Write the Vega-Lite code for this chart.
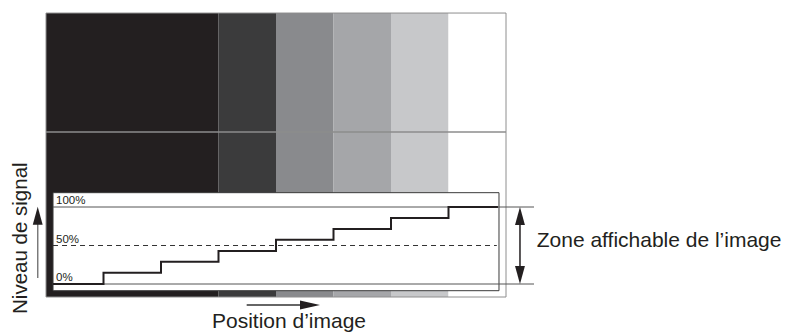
{
  "$schema": "https://vega.github.io/schema/vega-lite/v6.json",
  "width": 785,
  "height": 336,
  "padding": 0,
  "autosize": {"type": "none"},
  "background": "white",
  "config": {"view": {"stroke": null}, "text": {"font": "Liberation Sans"}},
  "datasets": {
    "bands": [
      {"pos": 0, "pos2": 3, "level": -16.9, "level2": 351.9, "band": "b1"},
      {"pos": 3, "pos2": 4, "level": -16.9, "level2": 351.9, "band": "b2"},
      {"pos": 4, "pos2": 5, "level": -16.9, "level2": 351.9, "band": "b3"},
      {"pos": 5, "pos2": 6, "level": -16.9, "level2": 351.9, "band": "b4"},
      {"pos": 6, "pos2": 7, "level": -16.9, "level2": 351.9, "band": "b5"},
      {"pos": 7, "pos2": 8, "level": -16.9, "level2": 351.9, "band": "b6"}
    ],
    "steps": [
      {"pos": 0.122, "level": 0},
      {"pos": 1, "level": 14.5},
      {"pos": 2, "level": 29},
      {"pos": 3, "level": 43},
      {"pos": 4, "level": 57.5},
      {"pos": 5, "level": 71.5},
      {"pos": 6, "level": 85.7},
      {"pos": 7, "level": 100},
      {"pos": 7.86, "level": 100}
    ],
    "pct": [
      {"pos": 0.174, "level": 100, "label": "100%"},
      {"pos": 0.174, "level": 50, "label": "50%"},
      {"pos": 0.174, "level": 0, "label": "0%"}
    ]
  },
  "encoding": {
    "x": {"field": "pos", "type": "quantitative", "scale": {"domain": [-0.8, 12.852], "nice": false, "zero": false}, "axis": null},
    "y": {"field": "level", "type": "quantitative", "scale": {"domain": [-67.53, 368.83], "nice": false, "zero": false}, "axis": null}
  },
  "layer": [
    {
      "data": {"name": "bands"},
      "mark": {"type": "rect"},
      "encoding": {
        "x2": {"field": "pos2"},
        "y2": {"field": "level2"},
        "color": {"field": "band", "type": "nominal", "legend": null,
          "scale": {"domain": ["b1", "b2", "b3", "b4", "b5", "b6"], "range": ["#231f20", "#3b3b3c", "#898a8d", "#a5a6a9", "#c7c8ca", "#ffffff"]}}
      }
    },
    {
      "data": {"values": [{"pos": 0, "pos2": 8, "level": 197.4}]},
      "mark": {"type": "rule", "color": "#8c8c8c", "strokeWidth": 1.5},
      "encoding": {"x2": {"field": "pos2"}}
    },
    {
      "data": {"values": [{"pos": 0, "pos2": 8, "level": -16.9, "level2": 351.9}]},
      "mark": {"type": "rect", "filled": false, "stroke": "#8e8e8e", "strokeWidth": 1},
      "encoding": {"x2": {"field": "pos2"}, "y2": {"field": "level2"}}
    },
    {
      "data": {"values": [{"pos": 0.122, "pos2": 7.878, "level": -8.7, "level2": 118.6}]},
      "mark": {"type": "rect", "fill": "#ffffff", "stroke": "#3a3a3a", "strokeWidth": 1},
      "encoding": {"x2": {"field": "pos2"}, "y2": {"field": "level2"}}
    },
    {
      "data": {"values": [{"pos": 0.122, "pos2": 8.487, "level": 100}, {"pos": 0.122, "pos2": 8.487, "level": 0}]},
      "mark": {"type": "rule", "color": "#555555", "strokeWidth": 1},
      "encoding": {"x2": {"field": "pos2"}}
    },
    {
      "data": {"values": [{"pos": 0.122, "pos2": 7.84, "level": 50}]},
      "mark": {"type": "rule", "color": "#333333", "strokeWidth": 1, "strokeDash": [5, 4]},
      "encoding": {"x2": {"field": "pos2"}}
    },
    {
      "data": {"name": "steps"},
      "mark": {"type": "line", "interpolate": "step-after", "color": "#231f20", "strokeWidth": 2},
      "encoding": {}
    },
    {
      "data": {"name": "pct"},
      "mark": {"type": "text", "align": "left", "baseline": "alphabetic", "dy": -3, "fontSize": 11.5, "fill": "#231f20"},
      "encoding": {"text": {"field": "label"}}
    },
    {
      "data": {"values": [{"pos": -0.144, "pos2": -0.144, "level": 7.8, "level2": 85}]},
      "mark": {"type": "rule", "color": "#7a7a7a", "strokeWidth": 1.5},
      "encoding": {"x2": {"field": "pos2"}, "y2": {"field": "level2"}}
    },
    {
      "data": {"values": [{"pos": 8.243, "pos2": 8.243, "level": 8, "level2": 92}]},
      "mark": {"type": "rule", "color": "#231f20", "strokeWidth": 1.5},
      "encoding": {"x2": {"field": "pos2"}, "y2": {"field": "level2"}}
    },
    {
      "data": {"values": [{"pos": 3.49, "pos2": 4.5, "level": -27.3}]},
      "mark": {"type": "rule", "color": "#333333", "strokeWidth": 1.5},
      "encoding": {"x2": {"field": "pos2"}}
    },
    {
      "data": {"values": [{"pos": -0.144, "level": 100.4}, {"pos": 8.243, "level": 100}]},
      "mark": {"type": "point", "shape": "M0,-1L0.55,1L-0.55,1Z", "filled": true, "size": 324, "color": "#231f20", "opacity": 1, "yOffset": 9},
      "encoding": {}
    },
    {
      "data": {"values": [{"pos": 8.243, "level": 0}]},
      "mark": {"type": "point", "shape": "M0,1L0.55,-1L-0.55,-1Z", "filled": true, "size": 324, "color": "#231f20", "opacity": 1, "yOffset": -9},
      "encoding": {}
    },
    {
      "data": {"values": [{"pos": 4.765, "level": -27.3}]},
      "mark": {"type": "point", "shape": "M1,0L-1,0.45L-1,-0.45Z", "filled": true, "size": 400, "color": "#231f20", "opacity": 1, "xOffset": -10},
      "encoding": {}
    },
    {
      "data": {"values": [{"pos": -0.330, "level": 59.5, "label": "Niveau de signal"}]},
      "mark": {"type": "text", "angle": 270, "align": "center", "baseline": "alphabetic", "fontSize": 20.5, "fill": "#231f20"},
      "encoding": {"text": {"field": "label"}}
    },
    {
      "data": {"values": [{"pos": 4.226, "level": -57.1, "label": "Position d’image"}]},
      "mark": {"type": "text", "align": "center", "baseline": "alphabetic", "fontSize": 21, "fill": "#231f20"},
      "encoding": {"text": {"field": "label"}}
    },
    {
      "data": {"values": [{"pos": 8.534, "level": 48.4, "label": "Zone affichable de l’image"}]},
      "mark": {"type": "text", "align": "left", "baseline": "alphabetic", "fontSize": 21, "fill": "#231f20"},
      "encoding": {"text": {"field": "label"}}
    }
  ]
}
